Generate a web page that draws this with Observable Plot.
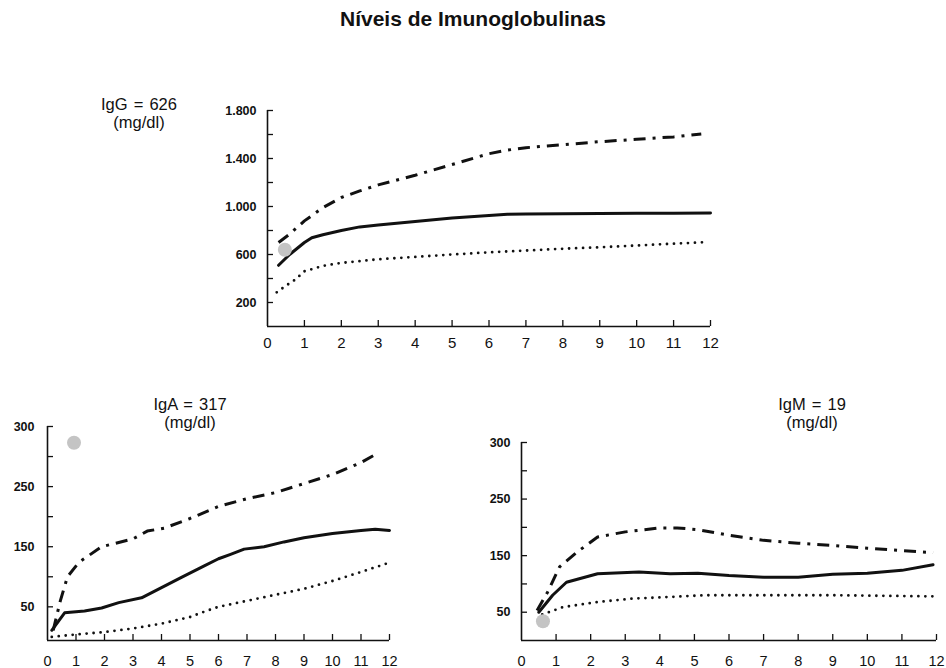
<!DOCTYPE html>
<html>
<head>
<meta charset="utf-8">
<script src="https://cdn.jsdelivr.net/npm/d3@7"></script>
<script src="https://cdn.jsdelivr.net/npm/@observablehq/plot@0.6"></script>
<style>
  html, body { margin: 0; padding: 0; background: #fff; }
  #root { position: relative; width: 946px; height: 668px; overflow: hidden; font-family: "Liberation Sans", Arial, Helvetica, sans-serif; color: #111; }
  .title { position: absolute; left: 0; width: 946px; top: 6px; text-align: center; font-weight: bold; font-size: 21px; line-height: 26px; }
  .lab { position: absolute; width: 160px; text-align: center; font-size: 16.5px; line-height: 18px; word-spacing: 1.5px; }
  .chart { position: absolute; }
</style>
</head>
<body>
<div id="root"></div>
<script>
// ---------- data (age in years, level in mg/dl) ----------
const title = "Níveis de Imunoglobulinas";
const ageTickLabels = [0,1,2,3,4,5,6,7,8,9,10,11,12];
const ageTickMarks = [1,2,3,4,5,6,7,8,9,10,11,12];

// IgG
const iggLabel = ["IgG = 626", "(mg/dl)"];
const iggYTickMarks = [200,400,600,800,1000,1200,1400,1600,1800];
const iggYTickLabels = [200,600,1000,1400,1800];
const iggUpper = [[0.3,700],[0.6,770],[1,880],[1.5,990],[2,1075],[2.5,1130],[3,1180],[4,1260],[5,1350],[6,1440],[6.5,1470],[7,1490],[8,1515],[9,1540],[10,1560],[11,1580],[11.75,1605]];
const iggMedian = [[0.3,510],[0.6,600],[1,700],[1.2,740],[1.5,765],[2,800],[2.5,830],[3,845],[4,875],[5,905],[6,925],[6.5,935],[7,937],[8,940],[9,942],[10,943],[11,944],[12,945]];
const iggLower = [[0.25,285],[0.5,340],[0.75,390],[1,460],[1.5,505],[2,530],[2.5,545],[3,560],[4,580],[5,600],[6,618],[7,633],[8,648],[9,660],[10,675],[11,690],[11.9,703]];
const iggPatient = [[0.47,640]];

// IgA
const igaLabel = ["IgA = 317", "(mg/dl)"];
const smallYTickMarks = [50,100,150,200,250,300,350];
const smallYTickValues = [50,150,250,350];
const smallYTickTexts = ["50","150","250","300"];
const igaUpper = [[0.2,11],[0.45,60],[0.7,100],[1.1,124],[1.9,150],[3,163],[3.5,176],[4.1,181],[5,197],[6,217],[7,230],[8,240],[9,255],[10,270],[11,290],[11.6,306]];
const igaMedian = [[0.15,11],[0.6,40],[1.3,43],[1.9,48],[2.5,57],[3.3,65],[4,82],[4.7,99],[5.5,118],[6,130],[6.4,137],[6.9,146],[7.6,150],[8.3,158],[9,165],[10,172],[11,177],[11.5,179],[12,177]];
const igaLower = [[0.15,0],[1,4],[2,8],[3,14],[4,22],[5,33],[5.5,42],[6,50],[7,60],[8,70],[9,80],[10,93],[11,108],[11.9,122]];
const igaPatient = [[0.93,323]];

// IgM
const igmLabel = ["IgM = 19", "(mg/dl)"];
const igmUpper = [[0.45,53],[0.75,85],[1.1,130],[1.6,156],[2.2,183],[3,192],[4,199],[4.5,199],[5.1,196],[6,186],[7,177],[8,172],[9,168],[10,163],[11,159],[11.9,155]];
const igmMedian = [[0.5,50],[0.9,80],[1.3,103],[2.2,118],[3.4,121],[4.3,118],[5.1,119],[6,115],[7,112],[8,112],[9,117],[10,119],[11,124],[11.9,134]];
const igmLower = [[0.6,46],[1.2,59],[2.2,68],[3.2,74],[4.3,77],[5.3,80],[7,80],[9,80],[11.9,78]];
const igmPatient = [[0.62,34]];

// ---------- drawing ----------
const ptBR = d3.formatLocale({decimal: ",", thousands: ".", grouping: [3], currency: ["R$", ""]}).format(",");
const FONT = '"Liberation Sans", Arial, Helvetica, sans-serif';
const INK = "#111";

function chart(o) {
  return Plot.plot({
    width: o.width, height: o.height,
    marginLeft: o.ml, marginRight: o.mr, marginTop: o.mt, marginBottom: o.mb,
    style: {fontFamily: FONT, color: INK, background: "transparent", overflow: "visible"},
    x: {domain: [0, 12], label: null},
    y: {domain: o.yDomain, label: null},
    marks: [
      Plot.axisY(o.yTickMarks, {tickSize: -6, fill: "none", strokeWidth: 1.3, label: null}),
      Plot.axisY(o.yTickLabels, {tickSize: 0, tickPadding: o.yPad, tickFormat: o.yFormat, fontWeight: "bold", fontSize: 12.5, label: null}),
      Plot.axisX(ageTickMarks, {tickSize: -6, fill: "none", strokeWidth: 1.3, label: null}),
      Plot.axisX(ageTickLabels, {tickSize: 0, tickPadding: o.xPad, fontSize: o.xFont, label: null}),
      Plot.ruleX([0], {strokeWidth: 1.6, stroke: INK}),
      Plot.ruleY([o.yDomain[0]], {strokeWidth: 1.6, stroke: INK}),
      Plot.line(o.lower, {x: d => d[0], y: d => d[1], stroke: INK, strokeWidth: 2.8, strokeDasharray: "0,7", strokeLinecap: "round", strokeLinejoin: "round"}),
      Plot.line(o.median, {x: d => d[0], y: d => d[1], stroke: INK, strokeWidth: 3, strokeLinejoin: "round"}),
      Plot.line(o.upper, {x: d => d[0], y: d => d[1], stroke: INK, strokeWidth: 3, strokeDasharray: "12,7,3,7", strokeLinecap: "butt", strokeLinejoin: "round"}),
      Plot.dot(o.patient, {x: d => d[0], y: d => d[1], r: 7, fill: "#c4c4c4", stroke: "none"})
    ]
  });
}

const root = document.getElementById("root");
const t = document.createElement("div");
t.className = "title"; t.textContent = title; root.appendChild(t);

function place(el, left, top) {
  el.classList.add("chart");
  el.style.left = left + "px"; el.style.top = top + "px";
  root.appendChild(el);
}
function label(lines, cx, top) {
  const d = document.createElement("div");
  d.className = "lab";
  d.style.left = (cx - 80) + "px"; d.style.top = top + "px";
  d.innerHTML = lines.map(s => `<div>${s}</div>`).join("");
  root.appendChild(d);
}

const smallFormat = d => smallYTickTexts[smallYTickValues.indexOf(d)];

place(chart({
  width: 530, height: 260, ml: 67, mr: 20, mt: 15, mb: 29,
  yDomain: [0, 1800], yTickMarks: iggYTickMarks, yTickLabels: iggYTickLabels,
  yFormat: d => ptBR(d), yPad: 11, xPad: 11, xFont: 15,
  upper: iggUpper, median: iggMedian, lower: iggLower, patient: iggPatient
}), 200, 95);

place(chart({
  width: 410, height: 258, ml: 47, mr: 21, mt: 16, mb: 28,
  yDomain: [-6, 350], yTickMarks: smallYTickMarks, yTickLabels: smallYTickValues,
  yFormat: smallFormat, yPad: 13, xPad: 15, xFont: 14.5,
  upper: igaUpper, median: igaMedian, lower: igaLower, patient: igaPatient
}), 0, 410);

place(chart({
  width: 476, height: 243, ml: 51, mr: 10, mt: 17, mb: 28,
  yDomain: [0, 350], yTickMarks: smallYTickMarks, yTickLabels: smallYTickValues,
  yFormat: smallFormat, yPad: 11, xPad: 15, xFont: 14.5,
  upper: igmUpper, median: igmMedian, lower: igmLower, patient: igmPatient
}), 470, 425);

label(iggLabel, 139, 95);
label(igaLabel, 190, 395);
label(igmLabel, 812, 395);
</script>
</body>
</html>
